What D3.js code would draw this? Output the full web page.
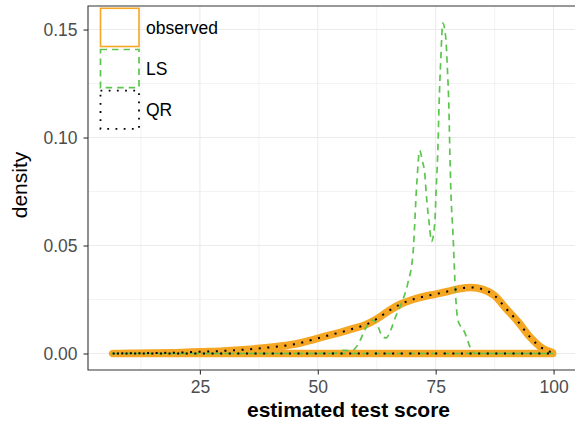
<!DOCTYPE html>
<html>
<head>
<meta charset="utf-8">
<script src="https://cdn.jsdelivr.net/npm/d3@7"></script>
<style>
  html, body { margin: 0; padding: 0; background: #fff; overflow: hidden; }
  svg { display: block; overflow: hidden; font-family: "Liberation Sans", Arial, Helvetica, sans-serif; }
</style>
</head>
<body>
<svg id="chart" width="575" height="429"></svg>
<script>
// Density estimates of the test score: observed vs. predictions from LS and QR
const observedX = [6.5, 10, 15, 20, 25, 30, 35, 40, 45, 50, 52.5, 55, 57.5, 60, 62.5, 65, 67.5, 70, 72.5, 75, 77.5, 80, 82.5, 85, 87.5, 90, 92.5, 95, 97.5, 99.8];
const observedY = [0, 0.0001, 0.0002, 0.0004, 0.0008, 0.0012, 0.0019, 0.0029, 0.0043, 0.0070, 0.0085, 0.0099, 0.0115, 0.0132, 0.0160, 0.0197, 0.0228, 0.0249, 0.0264, 0.0275, 0.0287, 0.0300, 0.0306, 0.0297, 0.0268, 0.0206, 0.0146, 0.0076, 0.0026, 0.0004];

const qrX = [6.5, 10, 15, 20, 25, 30, 35, 40, 45, 50, 52.5, 55, 57.5, 60, 62.5, 65, 67.5, 70, 72.5, 75, 77.5, 80, 82.5, 85, 87.5, 90, 92.5, 95, 97.5, 99.8];
const qrY = [0, 0.0001, 0.0002, 0.0004, 0.0008, 0.0012, 0.0019, 0.0029, 0.0043, 0.0070, 0.0085, 0.0099, 0.0115, 0.0132, 0.0160, 0.0197, 0.0228, 0.0249, 0.0264, 0.0275, 0.0287, 0.0300, 0.0306, 0.0297, 0.0268, 0.0206, 0.0146, 0.0076, 0.0026, 0.0004];

const lsX = [6.5, 50, 54, 55.5, 57, 58.5, 60, 61.5, 62.5, 63.5, 64.5, 65.5, 66.5, 67.7, 69.1, 70.2, 71, 71.6, 72.2, 72.7, 73, 73.7, 74.1, 74.8, 75.1, 75.5, 75.7, 76.1, 76.5, 77.1, 77.5, 77.8, 78, 78.2, 78.7, 79.2, 79.7, 81.1, 82.6, 83.5, 99.8];
const lsY = [0, 0, 0.0002, 0.0015, 0.0012, 0.004, 0.011, 0.0155, 0.014, 0.0086, 0.0072, 0.011, 0.017, 0.023, 0.0326, 0.0465, 0.079, 0.094, 0.089, 0.083, 0.074, 0.0587, 0.0518, 0.060, 0.0757, 0.097, 0.114, 0.137, 0.153, 0.147, 0.131, 0.114, 0.094, 0.077, 0.054, 0.028, 0.0155, 0.010, 0.0016, 0, 0];

const xTicks = [25, 50, 75, 100];
const xMinor = [12.5, 37.5, 62.5, 87.5];
const yTicks = [0, 0.05, 0.10, 0.15];
const yMinor = [0.025, 0.075, 0.125];
const seriesNames = ["observed", "LS", "QR"];

const svg = d3.select("#chart");
const panel = { left: 88, top: 6, right: 592, bottom: 370 };

const x = d3.scaleLinear().domain([1.27, 108.15]).range([panel.left, panel.right]);
const y = d3.scaleLinear().domain([-0.00764, 0.1609]).range([panel.bottom, panel.top]);

const font = '"Liberation Sans", Arial, Helvetica, sans-serif';

// grid
const grid = svg.append("g");
grid.selectAll("line.ymin").data(yMinor).join("line")
  .attr("x1", panel.left).attr("x2", panel.right)
  .attr("y1", d => y(d)).attr("y2", d => y(d))
  .attr("stroke", "#EBEBEB").attr("stroke-width", 0.6);
grid.selectAll("line.xmin").data(xMinor).join("line")
  .attr("y1", panel.top).attr("y2", panel.bottom)
  .attr("x1", d => x(d)).attr("x2", d => x(d))
  .attr("stroke", "#EBEBEB").attr("stroke-width", 0.6);
grid.selectAll("line.ymaj").data(yTicks).join("line")
  .attr("x1", panel.left).attr("x2", panel.right)
  .attr("y1", d => y(d)).attr("y2", d => y(d))
  .attr("stroke", "#EBEBEB").attr("stroke-width", 1.1);
grid.selectAll("line.xmaj").data(xTicks).join("line")
  .attr("y1", panel.top).attr("y2", panel.bottom)
  .attr("x1", d => x(d)).attr("x2", d => x(d))
  .attr("stroke", "#EBEBEB").attr("stroke-width", 1.1);

// density outlines (closed along the baseline)
const line = d3.line().x(d => x(d[0])).y(d => y(d[1])).curve(d3.curveMonotoneX);
function outline(xs, ys) {
  const pts = xs.map((v, i) => [v, ys[i]]);
  const x0 = xs[0], x1 = xs[xs.length - 1];
  return line(pts) + `L${x(x1)},${y(0)}L${x(x0)},${y(0)}Z`;
}

const plot = svg.append("g");
plot.append("path").attr("d", outline(observedX, observedY))
  .attr("fill", "none").attr("stroke", "#F5A623").attr("stroke-width", 7.5)
  .attr("stroke-linejoin", "round").attr("stroke-linecap", "round");
plot.append("path").attr("d", outline(lsX, lsY))
  .attr("fill", "none").attr("stroke", "#5DC54F").attr("stroke-width", 1.7)
  .attr("stroke-dasharray", "6.5,5");
plot.append("path").attr("d", outline(qrX, qrY))
  .attr("fill", "none").attr("stroke", "#000").attr("stroke-width", 2)
  .attr("stroke-dasharray", "2,6.6");

// panel border (left, top, bottom visible; right side runs past the edge)
svg.append("path")
  .attr("d", `M${panel.right},${panel.top}H${panel.left}V${panel.bottom}H${panel.right}`)
  .attr("fill", "none").attr("stroke", "#333333").attr("stroke-width", 1.1);

// axes
const xAxis = svg.append("g").attr("transform", `translate(0,${panel.bottom})`)
  .call(d3.axisBottom(x).tickValues(xTicks).tickSize(4.5).tickPadding(6.5).tickFormat(d3.format("d")));
const yAxis = svg.append("g").attr("transform", `translate(${panel.left},0)`)
  .call(d3.axisLeft(y).tickValues(yTicks).tickSize(4.5).tickPadding(6).tickFormat(d3.format(".2f")));
[xAxis, yAxis].forEach(a => {
  a.select(".domain").remove();
  a.selectAll(".tick line").attr("stroke", "#333333").attr("stroke-width", 1.1);
  a.selectAll(".tick text").attr("fill", "#4D4D4D").style("font-size", "17.5px").style("font-family", font);
});

// axis titles
svg.append("text").attr("x", 348.5).attr("y", 417)
  .attr("text-anchor", "middle").style("font-size", "21px").style("font-weight", "bold")
  .style("font-family", font).attr("fill", "#000").text("estimated test score");
svg.append("text").attr("transform", "translate(27,185) rotate(-90)")
  .attr("text-anchor", "middle").style("font-size", "21px")
  .style("font-family", font).attr("fill", "#000").text("density");

// legend
const legend = svg.append("g");
const keyStyles = [
  { stroke: "#F5A623", width: 1.6, dash: null },
  { stroke: "#5DC54F", width: 1.7, dash: "6.5,5" },
  { stroke: "#000", width: 1.8, dash: "1.8,6.4" }
];
seriesNames.forEach((name, i) => {
  const top = 8.3 + i * 41.2;
  const s = keyStyles[i];
  const r = legend.append("rect")
    .attr("x", 100.5).attr("y", top).attr("width", 38.5).attr("height", 38.2)
    .attr("fill", "none").attr("stroke", s.stroke).attr("stroke-width", s.width);
  if (s.dash) r.attr("stroke-dasharray", s.dash);
  legend.append("text").attr("x", 146).attr("y", top + 19 + 6.6)
    .style("font-size", "17.5px").style("font-family", font).attr("fill", "#000").text(name);
});
</script>
</body>
</html>
